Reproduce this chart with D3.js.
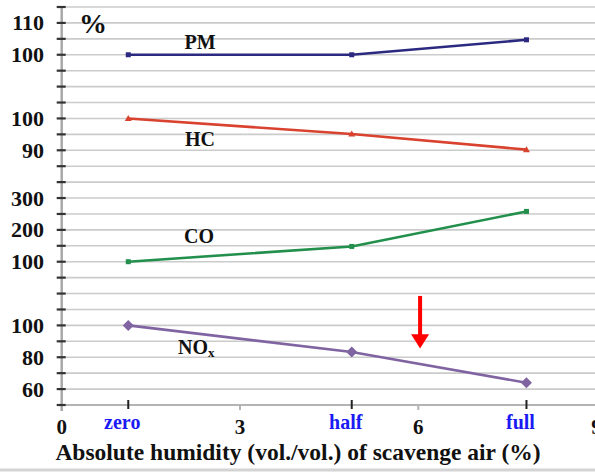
<!DOCTYPE html>
<html>
<head>
<meta charset="utf-8">
<script src="https://cdn.jsdelivr.net/npm/d3@7"></script>
<style>
  html, body { margin: 0; padding: 0; background: #ffffff; }
  svg { display: block; }
  text { font-family: "Liberation Serif", "Times New Roman", serif; font-weight: bold; }
</style>
</head>
<body>
<svg id="chart" width="595" height="472"></svg>
<script>
// ---- data ----
const categories = ["zero", "half", "full"];
const humidity = [1.12, 4.88, 7.82];          // x position on the 0–9 axis
const xTicks = [0, 3, 6, 9];

const pmValues  = [100, 100, 104.7];
const hcValues  = [100, 95.1, 90.2];
const coValues  = [100, 148, 258];
const noxValues = [100, 83.3, 64];

const pmTicks  = [100, 110];
const hcTicks  = [90, 100];
const coTicks  = [100, 200, 300];
const noxTicks = [60, 80, 100];

// ---- layout ----
const W = 595, H = 472;
const svg = d3.select("#chart");

const x = d3.scaleLinear().domain([0, 9]).range([61.7, 596.6]);
// master grid scale: 25 grid intervals
const g = d3.scaleLinear().domain([0, 25]).range([405, 7]);

// per-panel scales
const yPM  = d3.scaleLinear().domain([100, 110]).range([g(22), g(24)]);
const yHC  = d3.scaleLinear().domain([90, 100]).range([g(16), g(18)]);
const yCO  = d3.scaleLinear().domain([100, 300]).range([g(9), g(13)]);
const yNOx = d3.scaleLinear().domain([60, 100]).range([g(1), g(5)]);

// gridlines
svg.append("g").selectAll("line").data(d3.range(1, 26)).join("line")
  .attr("x1", x(0)).attr("x2", W)
  .attr("y1", d => g(d)).attr("y2", d => g(d))
  .attr("stroke", "#cbcbcb").attr("stroke-width", 1.6);

// x axis line
svg.append("line").attr("x1", x(0)).attr("x2", W).attr("y1", g(0)).attr("y2", g(0))
  .attr("stroke", "#b4b4b4").attr("stroke-width", 2);
// y axis line
svg.append("line").attr("x1", x(0)).attr("x2", x(0)).attr("y1", g(25)).attr("y2", g(0) + 6)
  .attr("stroke", "#a8a8a8").attr("stroke-width", 2.5);

// y ticks (crossing)
svg.append("g").selectAll("line").data(d3.range(0, 26)).join("line")
  .attr("x1", x(0) - 5).attr("x2", x(0) + 4)
  .attr("y1", d => g(d)).attr("y2", d => g(d))
  .attr("stroke", "#333").attr("stroke-width", 2.2);

// x numeric ticks (gray, below)
svg.append("g").selectAll("line").data(xTicks.slice(1)).join("line")
  .attr("x1", d => x(d)).attr("x2", d => x(d))
  .attr("y1", g(0)).attr("y2", g(0) + 5)
  .attr("stroke", "#b4b4b4").attr("stroke-width", 2);

// category ticks (black)
svg.append("g").selectAll("line").data(humidity).join("line")
  .attr("x1", d => x(d)).attr("x2", d => x(d))
  .attr("y1", g(0) - 5).attr("y2", g(0) + 4)
  .attr("stroke", "#222").attr("stroke-width", 2);

// x numeric labels
svg.append("g").selectAll("text").data(xTicks).join("text")
  .attr("x", d => x(d)).attr("y", 434)
  .attr("text-anchor", "middle").attr("font-size", 21).attr("fill", "#111")
  .text(d => d);

// category labels
svg.append("g").selectAll("text").data(categories).join("text")
  .attr("x", (d, i) => x(humidity[i]) - 6).attr("y", 429)
  .attr("text-anchor", "middle").attr("font-size", 20).attr("fill", "#1a1af5")
  .text(d => d);

// x title
svg.append("text").attr("x", 298).attr("y", 459.5)
  .attr("text-anchor", "middle").attr("font-size", 23.5).attr("fill", "#111")
  .text("Absolute humidity (vol./vol.) of scavenge air (%)");

// y tick labels per panel
function yLabels(ticks, scale) {
  svg.append("g").selectAll("text").data(ticks).join("text")
    .attr("x", 44).attr("y", d => scale(d) + 7.5)
    .attr("text-anchor", "end").attr("font-size", 22).attr("fill", "#111")
    .text(d => d);
}
yLabels(pmTicks, yPM);
yLabels(hcTicks, yHC);
yLabels(coTicks, yCO);
yLabels(noxTicks, yNOx);

// % label
svg.append("text").attr("x", 79).attr("y", 33).attr("font-size", 28).attr("fill", "#111").text("%");

// series
const series = [
  { name: "PM",  vals: pmValues,  scale: yPM,  color: "#2b2a80", marker: "square", size: 5 },
  { name: "HC",  vals: hcValues,  scale: yHC,  color: "#d8422e", marker: "triangle", size: 7 },
  { name: "CO",  vals: coValues,  scale: yCO,  color: "#22904c", marker: "square", size: 5 },
  { name: "NOx", vals: noxValues, scale: yNOx, color: "#8064a2", marker: "diamond", size: 11 }
];

series.forEach(s => {
  const pts = s.vals.map((v, i) => [x(humidity[i]), s.scale(v)]);
  svg.append("path")
    .attr("d", d3.line()(pts))
    .attr("fill", "none").attr("stroke", s.color).attr("stroke-width", 2.6);
  const grp = svg.append("g");
  pts.forEach(p => {
    if (s.marker === "square") {
      grp.append("rect").attr("x", p[0] - s.size / 2).attr("y", p[1] - s.size / 2)
        .attr("width", s.size).attr("height", s.size).attr("fill", s.color);
    } else if (s.marker === "triangle") {
      const h = s.size;
      grp.append("path").attr("d", `M${p[0]},${p[1] - h / 2}L${p[0] + h / 2},${p[1] + h / 2 - 1}L${p[0] - h / 2},${p[1] + h / 2 - 1}Z`)
        .attr("fill", s.color);
    } else {
      const r = s.size / 2;
      grp.append("path").attr("d", `M${p[0]},${p[1] - r}L${p[0] + r},${p[1]}L${p[0]},${p[1] + r}L${p[0] - r},${p[1]}Z`)
        .attr("fill", s.color);
    }
  });
});

// series labels
svg.append("text").attr("x", 200).attr("y", 49).attr("text-anchor", "middle").attr("font-size", 20).attr("fill", "#111").text("PM");
svg.append("text").attr("x", 200).attr("y", 146).attr("text-anchor", "middle").attr("font-size", 20).attr("fill", "#111").text("HC");
svg.append("text").attr("x", 199).attr("y", 243).attr("text-anchor", "middle").attr("font-size", 20).attr("fill", "#111").text("CO");
const nox = svg.append("text").attr("x", 178).attr("y", 354).attr("font-size", 20).attr("fill", "#111");
nox.append("tspan").text("NO");
nox.append("tspan").attr("font-size", 13).attr("dy", 3).text("x");

// red arrow annotation
const ax = x(6.03);
svg.append("line").attr("x1", ax).attr("x2", ax).attr("y1", g(6.85)).attr("y2", g(4.3))
  .attr("stroke", "#ff0000").attr("stroke-width", 4);
svg.append("path")
  .attr("d", `M${ax - 9},${g(4.45)}L${ax + 9},${g(4.45)}L${ax},${g(3.55)}Z`)
  .attr("fill", "#ff0000");

// bottom border
svg.append("line").attr("x1", 0).attr("x2", W).attr("y1", 470).attr("y2", 470)
  .attr("stroke", "#d4d4d4").attr("stroke-width", 3);
</script>
</body>
</html>
